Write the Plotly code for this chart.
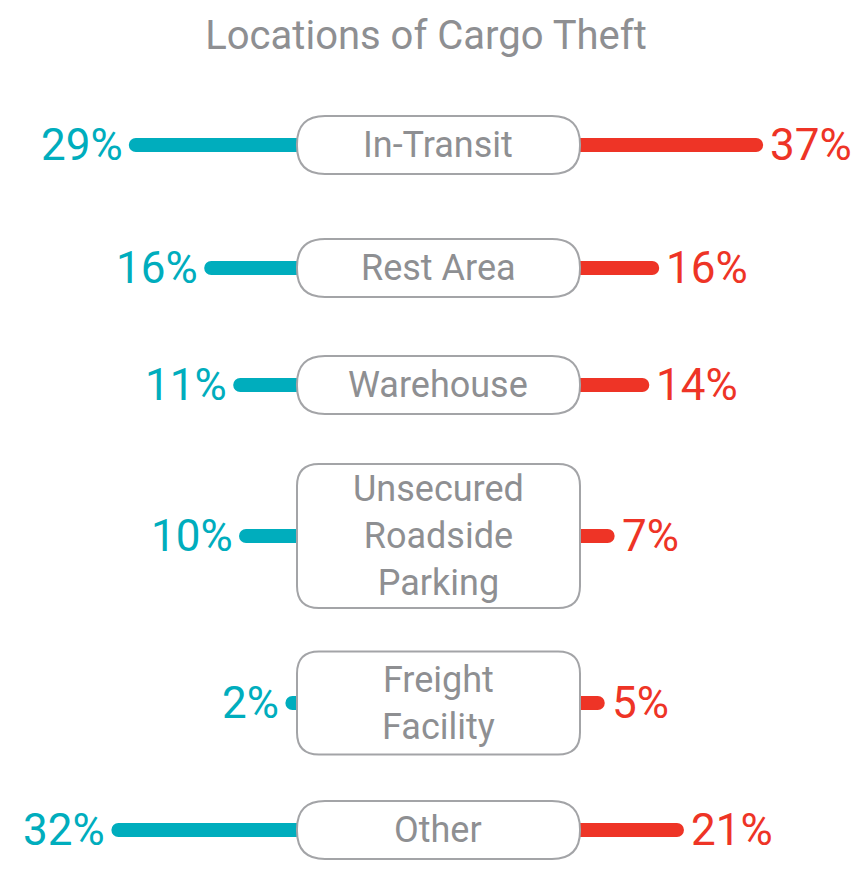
import plotly.graph_objects as go

# data
categories = ["In-Transit", "Rest Area", "Warehouse",
              "Unsecured<br>Roadside<br>Parking", "Freight<br>Facility", "Other"]
left_pct = [29, 16, 11, 10, 2, 32]
right_pct = [37, 16, 14, 7, 5, 21]

TEAL = "#00adbd"
RED = "#ee3426"
GRAY = "#8e8f92"
FONT = "Roboto"

# layout (pixel units, y axis runs top -> bottom)
W, H = 852, 875
row_y = [145, 268, 385, 536, 703, 830]
box_h = [58, 58, 58, 144, 103, 58]
box_l, box_r = 297, 580
bar_h = 14

fig = go.Figure()

fig.add_trace(go.Bar(
    x=left_pct, y=row_y, orientation="h", width=bar_h,
    marker=dict(color=TEAL, cornerradius=7, line_width=0),
    xaxis="x", yaxis="y", hoverinfo="skip", showlegend=False,
))
fig.add_trace(go.Bar(
    x=right_pct, y=row_y, orientation="h", width=bar_h,
    marker=dict(color=RED, cornerradius=7, line_width=0),
    xaxis="x2", yaxis="y", hoverinfo="skip", showlegend=False,
))

# value labels
for v, y in zip(left_pct, row_y):
    fig.add_annotation(x=v, y=y, xref="x", yref="y", text=f"{v}%",
                       xanchor="right", yanchor="middle", xshift=-4, showarrow=False,
                       font=dict(family=FONT, size=44, color=TEAL))
for v, y in zip(right_pct, row_y):
    fig.add_annotation(x=v, y=y, xref="x2", yref="y", text=f"{v}%",
                       xanchor="left", yanchor="middle", xshift=5, showarrow=False,
                       font=dict(family=FONT, size=44, color=RED))


def rounded_box(x0, x1, y0, y1, r):
    # x in paper units, y in pixel (data) units
    rx = r / W
    return (f"M {x0+rx},{y0} L {x1-rx},{y0} Q {x1},{y0} {x1},{y0+r} "
            f"L {x1},{y1-r} Q {x1},{y1} {x1-rx},{y1} L {x0+rx},{y1} "
            f"Q {x0},{y1} {x0},{y1-r} L {x0},{y0+r} Q {x0},{y0} {x0+rx},{y0} Z")


# category boxes
for cat, y, h in zip(categories, row_y, box_h):
    r = 28 if h < 70 else 22
    fig.add_shape(type="path", xref="paper", yref="y",
                  path=rounded_box(box_l / W, box_r / W, y - h / 2, y + h / 2, r),
                  line=dict(color="#a3a4a7", width=2), fillcolor="white", layer="above")
    fig.add_annotation(x=(box_l + box_r) / 2 / W, y=y, xref="paper", yref="y", text=cat,
                       showarrow=False, xanchor="center", yanchor="middle",
                       font=dict(family=FONT, size=36, color=GRAY))

fig.update_layout(
    width=W, height=H,
    margin=dict(l=0, r=0, t=0, b=0),
    paper_bgcolor="white", plot_bgcolor="white",
    title=dict(text="Locations of Cargo Theft", x=0.5, xanchor="center",
               y=1 - 35 / H, yanchor="middle",
               font=dict(family=FONT, size=40, color=GRAY)),
    barmode="overlay",
    xaxis=dict(domain=[0, box_l / W], range=[box_l / 5.8, 0], visible=False, fixedrange=True),
    xaxis2=dict(domain=[box_r / W, 1], range=[0, (W - box_r) / 4.95], visible=False,
                anchor="y", fixedrange=True),
    yaxis=dict(domain=[0, 1], range=[H, 0], visible=False, fixedrange=True),
)

fig.write_html("out.html", config={"displayModeBar": False},
               post_script="document.body.style.margin='0';")
